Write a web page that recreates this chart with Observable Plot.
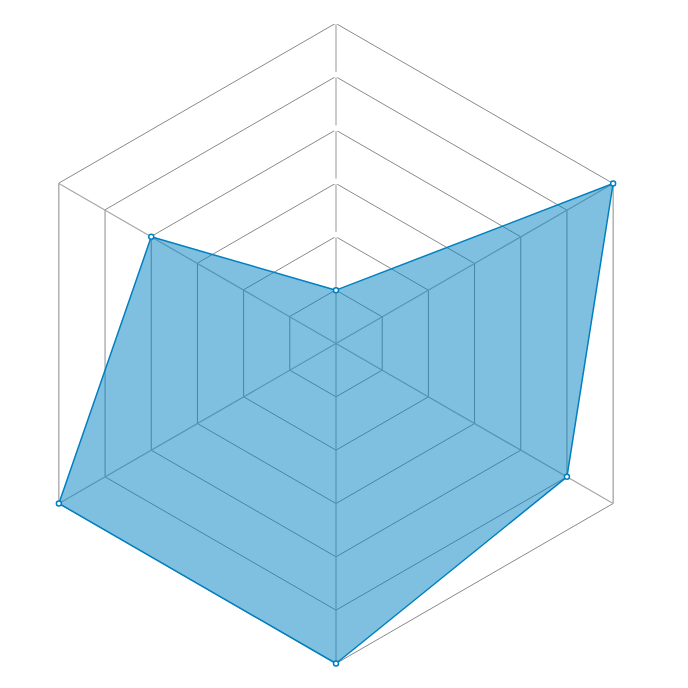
<!DOCTYPE html>
<html>
<head>
<meta charset="utf-8">
<script src="https://cdn.jsdelivr.net/npm/d3@7"></script>
<script src="https://cdn.jsdelivr.net/npm/@observablehq/plot@0.6"></script>
<style>
  html, body { margin: 0; padding: 0; background: #fff; }
</style>
</head>
<body>
<div id="chart"></div>
<script>
// Axes (clockwise from top) and the series values on a 0..6 scale
const categories = ["A", "B", "C", "D", "E", "F"];
const values = [1, 6, 5, 6, 6, 4];
const levels = [1, 2, 3, 4, 5, 6];
const maxValue = 6;

const n = categories.length;
const angleOf = (i) => (i * 2 * Math.PI) / n;
const px = (i, v) => v * Math.sin(angleOf(i));
const py = (i, v) => v * Math.cos(angleOf(i));

const grid = levels.flatMap((lv) => categories.map((c, i) => ({level: lv, i})));
const spokes = categories.map((c, i) => ({i}));
const series = categories.map((c, i) => ({category: c, i, value: values[i]}));
const topTicks = levels.filter((lv) => lv > values[0]).map((lv) => ({level: lv}));

const chart = Plot.plot({
  width: 688,
  height: 688,
  marginLeft: 15.5,
  marginRight: 32.5,
  marginTop: 23,
  marginBottom: 25,
  x: {domain: [-maxValue, maxValue], axis: null},
  y: {domain: [-maxValue, maxValue], axis: null},
  marks: [
    Plot.line(grid, {
      x: (d) => px(d.i, d.level),
      y: (d) => py(d.i, d.level),
      z: "level",
      curve: "linear-closed",
      stroke: "#8a8a8a",
      strokeWidth: 1
    }),
    Plot.link(spokes, {
      x1: () => 0,
      y1: () => 0,
      x2: (d) => px(d.i, maxValue),
      y2: (d) => py(d.i, maxValue),
      stroke: "#a8a8a8",
      strokeWidth: 1.2
    }),
    Plot.dot(topTicks, {
      x: () => 0,
      y: (d) => d.level,
      dy: -2,
      r: 3,
      fill: "white"
    }),
    Plot.line(series, {
      x: (d) => px(d.i, d.value),
      y: (d) => py(d.i, d.value),
      curve: "linear-closed",
      fill: "#0080c0",
      fillOpacity: 0.5,
      stroke: "#0080c0",
      strokeWidth: 1.5
    }),
    Plot.dot(series, {
      x: (d) => px(d.i, d.value),
      y: (d) => py(d.i, d.value),
      r: 2.5,
      fill: "white",
      stroke: "#0080c0",
      strokeWidth: 1.5
    })
  ]
});
document.getElementById("chart").appendChild(chart);
</script>
</body>
</html>
